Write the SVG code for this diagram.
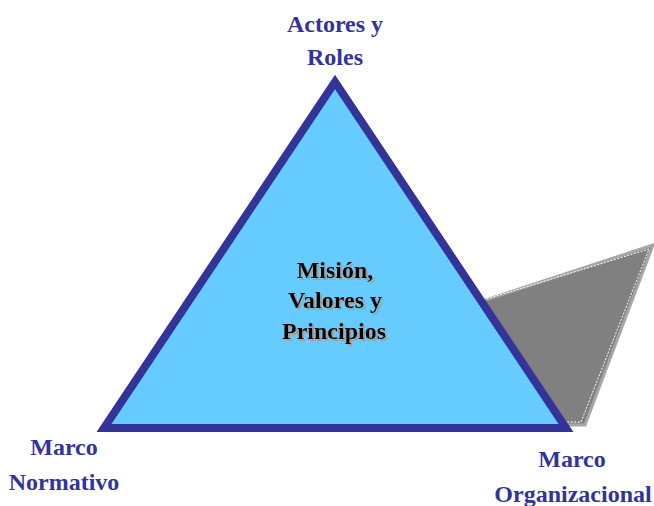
<svg xmlns="http://www.w3.org/2000/svg" width="654" height="506" viewBox="0 0 654 506">
<defs>
<filter id="shadow" x="-10%" y="-10%" width="120%" height="130%">
<feOffset in="SourceAlpha" dx="2" dy="2" result="off"/>
<feFlood flood-color="#a0a0a0"/>
<feComposite in2="off" operator="in" result="sh"/>
<feMerge><feMergeNode in="sh"/><feMergeNode in="SourceGraphic"/></feMerge>
</filter>
</defs>
<style>
.lbl{font-family:"Liberation Serif","Times New Roman",serif;font-weight:bold;font-size:24px;fill:#333399;text-anchor:middle}
.ctr{font-family:"Liberation Serif","Times New Roman",serif;font-weight:bold;font-size:24px;text-anchor:middle;fill:#000000}
</style>
<rect width="654" height="506" fill="#ffffff"/>
<g id="face">
<polygon points="440,315 653,245 585,425 440,425" fill="#808080" stroke="#a6a6a6" stroke-width="3" stroke-linejoin="miter"/>
<polyline points="470,304 649,249 581,422 545,422" fill="none" stroke="#ffffff" stroke-width="1" stroke-dasharray="2,1.5"/>
</g>
<g id="triangle">
<polygon points="104,428 335,82 566,428" fill="#66ccff" stroke="#333399" stroke-width="8" stroke-linejoin="miter"/>
</g>
<g id="center" class="ctr" filter="url(#shadow)">
<text x="335" y="278">Misión,</text>
<text x="335" y="308">Valores y</text>
<text x="334" y="339">Principios</text>
</g>
<g id="top">
<text class="lbl" x="335" y="32">Actores y</text>
<text class="lbl" x="335" y="65">Roles</text>
</g>
<g id="left">
<text class="lbl" x="64" y="455">Marco</text>
<text class="lbl" x="64" y="490">Normativo</text>
</g>
<g id="right">
<text class="lbl" x="572" y="467">Marco</text>
<text class="lbl" x="573" y="502">Organizacional</text>
</g>
<g id="connectors"></g>
</svg>
